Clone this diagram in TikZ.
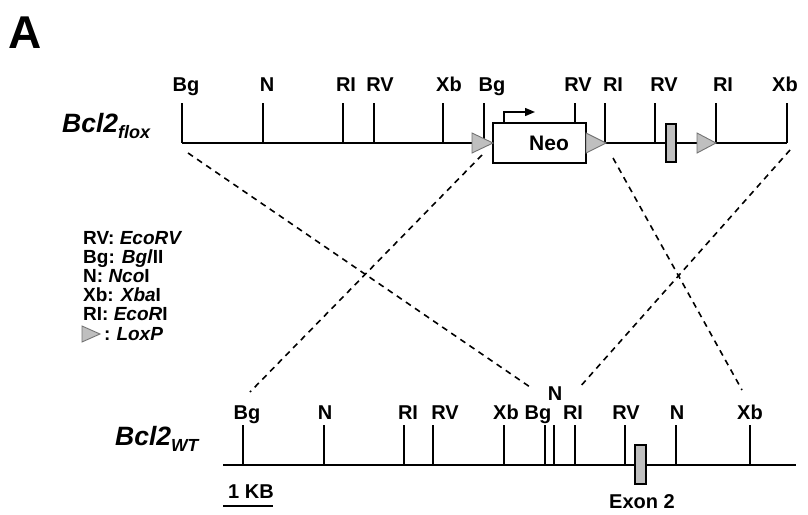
\documentclass[tikz,border=0pt]{standalone}
\usepackage{fontspec}
\setmainfont{Liberation Sans}
\usetikzlibrary{arrows.meta}
\begin{document}
\begin{tikzpicture}[x=1pt,y=-1pt,
  lbl/.style={font=\fontsize{20}{20}\selectfont\bfseries, anchor=base, inner sep=0pt},
  leg/.style={font=\fontsize{19}{19}\selectfont\bfseries, anchor=base west, inner sep=0pt},
  gene/.style={font=\fontsize{26.5}{26.5}\selectfont\bfseries\itshape, anchor=base west, inner sep=0pt},
  tickln/.style={line width=1.5pt},
  dna/.style={line width=1.7pt},
  dashln/.style={line width=1.6pt, dash pattern=on 6pt off 5pt},
  loxp/.style={fill=black!25, draw=black!55, line width=0.9pt},
  exonbox/.style={fill=black!25, draw=black, line width=1.1pt},
  neobox/.style={draw, fill=white, line width=1.4pt, minimum width=93pt, minimum height=40pt, inner sep=0pt}]
\useasboundingbox (0,0) rectangle (808,514);

% panel letter
\node[font=\fontsize{46}{46}\selectfont\bfseries, anchor=base west, inner sep=0pt] (A) at (8,48) {A};

% gene labels
\node[gene] (flox) at (62,132) {Bcl2\raisebox{-6pt}{\fontsize{18}{18}\selectfont flox}};
\node[gene] (wt) at (115,445) {Bcl2\raisebox{-6pt}{\fontsize{17.5}{17.5}\selectfont WT}};

% ---------- top (flox) allele ----------
\draw[dna] (182,143) -- (787,143);
\foreach \x in {182,263,343,374,443,484,605,655,716,787}
  \draw[tickln] (\x,103) -- (\x,143);
\draw[tickln] (575,103) -- (575,123);

\foreach \x/\t in {186/Bg,267/N,346/RI,380/RV,449/Xb,492/Bg,578/RV,613/RI,664/RV,723/RI,785/Xb}
  \node[lbl] at (\x,91) {\t};

\node[neobox] (neo) at (539.5,143) {};
\node[lbl, font=\fontsize{21}{21}\selectfont\bfseries] (neotxt) at (549,150) {Neo};
\draw[line width=1.4pt, -{Triangle[length=10pt,width=8pt]}] (504,123) |- (535,112);

\filldraw[loxp] (472,133) -- (493,143) -- (472,153) -- cycle;
\filldraw[loxp] (586,133) -- (606,143) -- (586,153) -- cycle;
\filldraw[loxp] (697,133) -- (716,143) -- (697,153) -- cycle;
\filldraw[exonbox] (666,124) rectangle (676,162);

% ---------- bottom (WT) allele ----------
\draw[dna] (223,465) -- (796,465);
\foreach \x in {243,324,404,433,504,545,554,575,625,676,750}
  \draw[tickln] (\x,425) -- (\x,465);
\foreach \x/\t in {247/Bg,325/N,408/RI,445/RV,506/Xb,538/Bg,573/RI,626/RV,677/N,750/Xb}
  \node[lbl] at (\x,419) {\t};
\node[lbl] (nraised) at (555,400) {N};
\filldraw[exonbox] (635,445) rectangle (646,484);
\node[lbl] (exon) at (642,508) {Exon 2};

% scale bar
\node[lbl] (kb) at (251,498) {1 KB};
\draw[line width=1.7pt] (223,506) -- (273,506);

% ---------- dashed correspondence lines ----------
\coordinate (d1a) at (188,153); \coordinate (d1b) at (530,387);
\coordinate (d2a) at (482,155); \coordinate (d2b) at (250,392);
\coordinate (d3a) at (613,158); \coordinate (d3b) at (742,390);
\coordinate (d4a) at (790,150); \coordinate (d4b) at (579,388);
\draw[dashln] (d1a) -- (d1b);
\draw[dashln] (d2a) -- (d2b);
\draw[dashln] (d3a) -- (d3b);
\draw[dashln] (d4a) -- (d4b);

% ---------- legend ----------
\node[leg] (l1) at (83,244) {RV: \textit{EcoRV}};
\node[leg] (l2) at (83,263) {Bg: \textit{Bgl}II};
\node[leg] (l3) at (83,282) {N: \textit{Nco}I};
\node[leg] (l4) at (83,301) {Xb: \textit{Xba}I};
\node[leg] (l5) at (83,320) {RI: \textit{EcoR}I};
\filldraw[loxp] (82,326) -- (100,334) -- (82,342) -- cycle;
\node[leg] (l6) at (104,340) {:\hspace{6pt}\textit{LoxP}};
\end{tikzpicture}
\end{document}
